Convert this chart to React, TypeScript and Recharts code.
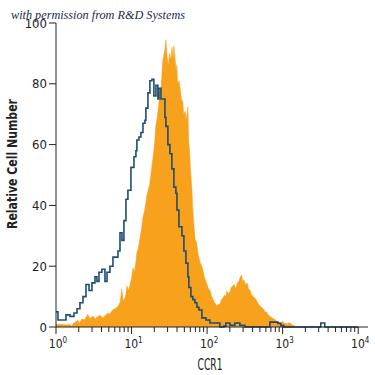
import React from 'react';
import { ComposedChart, Area, Line, XAxis, YAxis } from 'recharts';

// x values are log10 of CCR1 fluorescence intensity (0 => 10^0, 4 => 10^4)
// y values are relative cell number
const orangeHist: [number, number][] = [
  [0, 0.8], [0.05, 0.9], [0.12, 0.7], [0.18, 0.8], [0.21, 0.3], [0.23, 1.2], [0.25, 1.5], [0.29, 2.2],
  [0.31, 1.2], [0.34, 2.6], [0.38, 2.4], [0.42, 4.2], [0.45, 2.8], [0.49, 3.6], [0.52, 2.6], [0.54, 3.2],
  [0.58, 3.9], [0.62, 3.0], [0.65, 3.8], [0.69, 4.6], [0.71, 4.2], [0.75, 5.6], [0.79, 6.2], [0.82, 6.8],
  [0.85, 8.2], [0.87, 12.5], [0.89, 8.5], [0.92, 10], [0.94, 13.5], [0.96, 12], [0.98, 14], [1.0, 16],
  [1.02, 19.5], [1.04, 18], [1.06, 22], [1.07, 24.5], [1.09, 26], [1.11, 29], [1.13, 32], [1.15, 36],
  [1.17, 38], [1.19, 41], [1.2, 43], [1.22, 45], [1.24, 47], [1.26, 51], [1.28, 55], [1.3, 59],
  [1.31, 62], [1.32, 66], [1.34, 69], [1.36, 73], [1.37, 77], [1.39, 79], [1.4, 82], [1.41, 87],
  [1.43, 90], [1.44, 91], [1.455, 94.5], [1.47, 89], [1.49, 86], [1.5, 90], [1.52, 88], [1.535, 92],
  [1.55, 88], [1.56, 92.5], [1.575, 89], [1.59, 84], [1.6, 86], [1.61, 80], [1.63, 81], [1.64, 79],
  [1.66, 75], [1.68, 74], [1.69, 70], [1.71, 71], [1.72, 68], [1.735, 70], [1.746, 72.5], [1.755, 62],
  [1.77, 57], [1.78, 52], [1.8, 45], [1.81, 39], [1.83, 32], [1.84, 29], [1.86, 28], [1.88, 24],
  [1.89, 23], [1.91, 21], [1.93, 20], [1.95, 18], [1.97, 16], [2.0, 14], [2.02, 12.5], [2.04, 12],
  [2.06, 10], [2.08, 9], [2.1, 8], [2.13, 7], [2.15, 7.5], [2.17, 7.5], [2.19, 9], [2.21, 9.5],
  [2.23, 10.5], [2.25, 10], [2.26, 12], [2.28, 11], [2.3, 11.5], [2.32, 13], [2.34, 13.5], [2.36, 14],
  [2.38, 12.5], [2.4, 14.5], [2.42, 15], [2.44, 16.5], [2.46, 17], [2.47, 15], [2.49, 15.5], [2.51, 14],
  [2.53, 14.5], [2.55, 12.5], [2.57, 12], [2.59, 10.5], [2.61, 10], [2.63, 9.5], [2.65, 9], [2.68, 7.5],
  [2.7, 7], [2.72, 6.5], [2.74, 6], [2.77, 5], [2.79, 4.8], [2.81, 4], [2.83, 3.5], [2.86, 3],
  [2.88, 2.8], [2.92, 2], [2.95, 1.6], [2.98, 1.3], [3.0, 1.8], [3.03, 1.2], [3.06, 1.0], [3.08, 1.4],
  [3.1, 1.2], [3.13, 0.6], [3.16, 0.3], [3.18, 0], [4, 0],
];

const blueHist: [number, number][] = [
  [0, 5], [0.026, 2.3], [0.132, 4], [0.185, 3.5], [0.238, 4.6], [0.278, 6], [0.317, 8], [0.357, 10],
  [0.397, 14], [0.437, 12], [0.476, 14.5], [0.516, 16.5], [0.542, 15], [0.569, 18], [0.608, 19], [0.648, 15],
  [0.675, 18], [0.714, 20], [0.754, 23], [0.82, 25], [0.847, 31], [0.873, 28.5], [0.899, 35], [0.926, 42],
  [0.952, 45], [0.992, 52.5], [1.032, 56], [1.058, 58], [1.071, 61.5], [1.098, 62.5], [1.124, 64], [1.151, 67],
  [1.177, 68], [1.19, 72], [1.217, 77], [1.243, 81], [1.27, 81.5], [1.296, 76], [1.323, 79.5], [1.349, 75],
  [1.362, 78.5], [1.389, 75], [1.442, 69], [1.455, 66], [1.481, 60], [1.508, 57], [1.534, 52], [1.561, 46],
  [1.587, 44], [1.601, 38.5], [1.627, 33], [1.667, 30], [1.693, 25], [1.72, 21], [1.746, 16.5], [1.759, 13],
  [1.786, 10], [1.812, 9], [1.839, 8], [1.865, 6.5], [1.892, 5.6], [1.931, 3], [1.984, 2.3], [2.037, 1.3],
  [2.169, 0], [2.222, 0.3], [2.249, 1.3], [2.302, 0.6], [2.368, 1.3], [2.434, 0.6], [2.5, 0], [2.831, 1.6],
  [2.937, 1.2], [2.976, 0.5], [3.016, 0], [3.505, 1.3], [3.558, 0], [4, 0],
];

const yTicks = [0, 20, 40, 60, 80, 100];
const decades = [0, 1, 2, 3, 4];
const minorMultipliers = [2, 3, 4, 5, 6, 7, 8, 9];

const TITLE = 'with permission from R&D Systems';
const Y_LABEL = 'Relative Cell Number';
const X_LABEL = 'CCR1';

const ORANGE = '#F7A11C';
const BLUE = '#1E4D72';
const AXIS = '#222';
const FONT = "'Liberation Sans Narrow', 'DejaVu Sans Condensed', 'Roboto Condensed', Roboto, sans-serif";

const xTicks = [
  ...decades,
  ...decades.slice(0, -1).flatMap((d) => minorMultipliers.map((m) => d + Math.log10(m))),
].sort((a, b) => a - b);

const xs = Array.from(new Set([...orangeHist.map((p) => p[0]), ...blueHist.map((p) => p[0])])).sort((a, b) => a - b);
const om = new Map(orangeHist);
const bm = new Map(blueHist);
const data = xs.map((x) => ({
  x,
  orange: om.has(x) ? om.get(x) : null,
  blue: bm.has(x) ? bm.get(x) : null,
}));

const XTick = (props: any) => {
  const { x, y, payload } = props;
  const v = payload.value;
  const major = Math.abs(v - Math.round(v)) < 1e-6;
  return (
    <g>
      <line x1={x} x2={x} y1={y} y2={y + (major ? 7 : 5)} stroke={AXIS} strokeWidth={1} />
      {major && (
        <text x={x + 2} y={y + 21} textAnchor="middle" fontSize={12} fill="#222" fontFamily={FONT}>
          10
          <tspan dy={-5} fontSize={8}>{Math.round(v)}</tspan>
        </text>
      )}
    </g>
  );
};

const YTick = (props: any) => {
  const { x, y, payload } = props;
  return (
    <g>
      <line x1={x - 7} x2={x} y1={y} y2={y} stroke={AXIS} strokeWidth={1} />
      <text x={x - 9} y={y} dy={4.5} textAnchor="end" fontSize={13} fill="#222" fontFamily={FONT}>
        {payload.value}
      </text>
    </g>
  );
};

export default function App() {
  return (
    <div style={{ position: 'absolute', left: 0, top: 0, width: 375, height: 375, background: '#fff' }}>
      <ComposedChart width={375} height={375} data={data} margin={{ top: 23, right: 7, bottom: 18, left: 16 }}>
        <XAxis
          dataKey="x"
          type="number"
          domain={[0, 4.13]}
          allowDataOverflow
          ticks={xTicks}
          interval={0}
          tickSize={0}
          tickMargin={0}
          tick={<XTick />}
          height={30}
          axisLine={{ stroke: AXIS, strokeWidth: 1 }}
        />
        <YAxis
          type="number"
          domain={[0, 100]}
          ticks={yTicks}
          interval={0}
          tickSize={0}
          tickMargin={0}
          tick={<YTick />}
          width={40}
          axisLine={{ stroke: AXIS, strokeWidth: 1 }}
        />
        <Area
          dataKey="orange"
          type="linear"
          fill={ORANGE}
          fillOpacity={1}
          stroke={ORANGE}
          strokeWidth={0.5}
          connectNulls
          isAnimationActive={false}
          dot={false}
          activeDot={false}
        />
        <Line
          dataKey="blue"
          type="stepAfter"
          stroke={BLUE}
          strokeWidth={1.6}
          connectNulls
          isAnimationActive={false}
          dot={false}
          activeDot={false}
        />
      </ComposedChart>
      <svg width={375} height={375} style={{ position: 'absolute', left: 0, top: 0, pointerEvents: 'none' }}>
        <text
          x={11}
          y={19}
          fontSize={13}
          fontStyle="italic"
          fontFamily="'Liberation Serif', 'DejaVu Serif', serif"
          fill="#1b2a4a"
          textLength={174}
          lengthAdjust="spacingAndGlyphs"
        >
          {TITLE}
        </text>
        <text
          x={0}
          y={0}
          transform="translate(17,164) rotate(-90)"
          textAnchor="middle"
          fontSize={14}
          fontWeight="bold"
          fontFamily={FONT}
          fill="#222"
          textLength={130}
          lengthAdjust="spacingAndGlyphs"
        >
          {Y_LABEL}
        </text>
        <text
          x={210}
          y={370}
          textAnchor="middle"
          fontSize={16}
          fontFamily={FONT}
          fill="#222"
          textLength={25}
          lengthAdjust="spacingAndGlyphs"
        >
          {X_LABEL}
        </text>
      </svg>
    </div>
  );
}
